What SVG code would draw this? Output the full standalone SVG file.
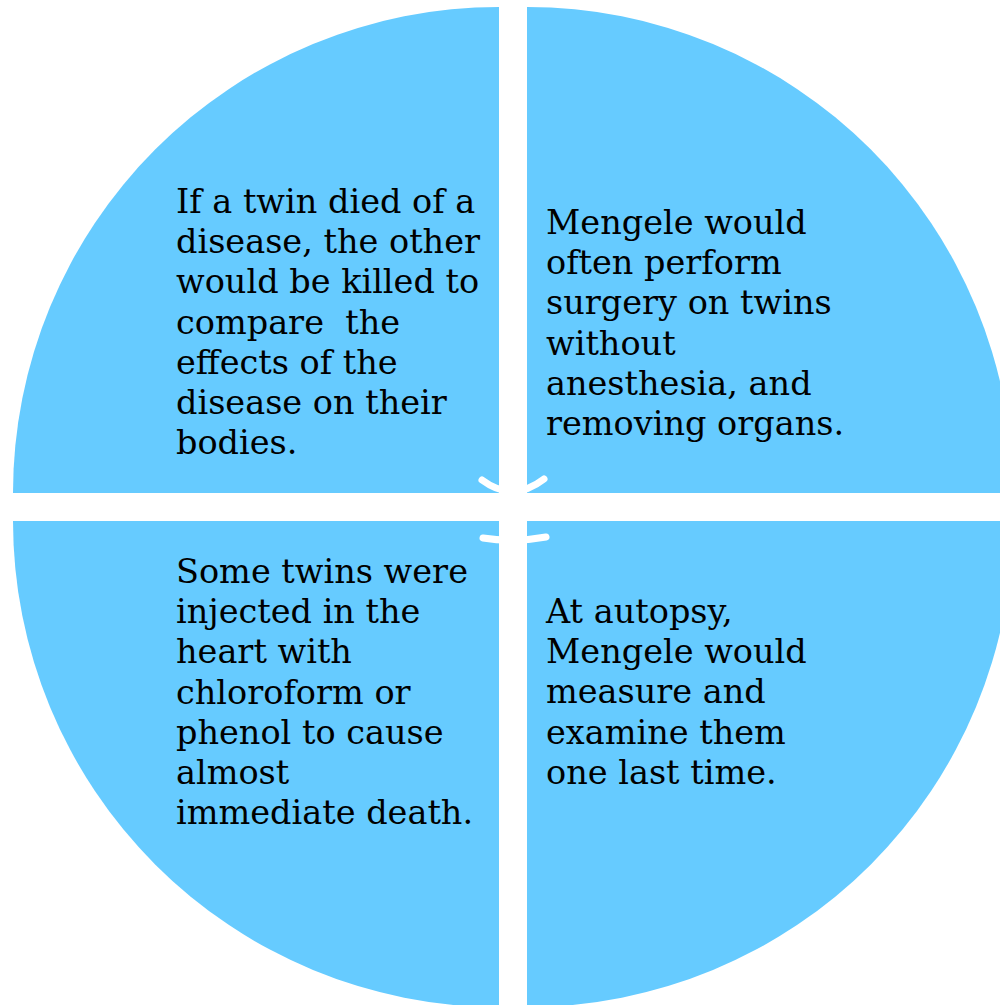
<svg xmlns="http://www.w3.org/2000/svg" width="1000" height="1005" viewBox="0 0 1000 1005">
<style>
.q{fill:#66CBFF;stroke:none}
.t{font-family:"DejaVu Serif","Liberation Serif",serif;font-size:33.5px;fill:#000}
.w{fill:none;stroke:#fff;stroke-width:7;stroke-linecap:round}
.pre{white-space:pre}
</style>
<rect width="1000" height="1005" fill="#fff"/>
<g id="q-top-left">
<path class="q" d="M499,493 L13,493 A486,486 0 0 1 499,7 Z"/>
<text class="t" x="176"><tspan x="176" y="213">If a twin died of a</tspan><tspan x="176" y="253">disease, the other</tspan><tspan x="176" y="293">would be killed to</tspan><tspan class="pre" xml:space="preserve" x="176" y="334">compare  the</tspan><tspan x="176" y="374">effects of the</tspan><tspan x="176" y="414">disease on their</tspan><tspan x="176" y="454">bodies.</tspan></text>
</g>
<g id="q-top-right">
<path class="q" d="M527,493 L527,7 A486,486 0 0 1 1013,493 Z"/>
<text class="t"><tspan x="546" y="234">Mengele would</tspan><tspan x="546" y="274">often perform</tspan><tspan x="546" y="314">surgery on twins</tspan><tspan x="546" y="355">without</tspan><tspan x="546" y="395">anesthesia, and</tspan><tspan x="546" y="435">removing organs.</tspan></text>
</g>
<g id="q-bottom-left">
<path class="q" d="M499,521 L499,1007 A486,486 0 0 1 13,521 Z"/>
<text class="t"><tspan x="176" y="583">Some twins were</tspan><tspan x="176" y="623">injected in the</tspan><tspan x="176" y="663">heart with</tspan><tspan x="176" y="704">chloroform or</tspan><tspan x="176" y="744">phenol to cause</tspan><tspan x="176" y="784">almost</tspan><tspan x="176" y="824">immediate death.</tspan></text>
</g>
<g id="q-bottom-right">
<path class="q" d="M527,521 L1013,521 A486,486 0 0 1 527,1007 Z"/>
<text class="t"><tspan x="546" y="623">At autopsy,</tspan><tspan x="546" y="663">Mengele would</tspan><tspan x="546" y="703">measure and</tspan><tspan x="546" y="744">examine them</tspan><tspan x="546" y="784">one last time.</tspan></text>
</g>
<g id="connectors">
<path class="w" d="M482,480 Q513,503 544,479"/>
<path class="w" d="M483,538 Q514,543 546,537"/>
</g>
</svg>
